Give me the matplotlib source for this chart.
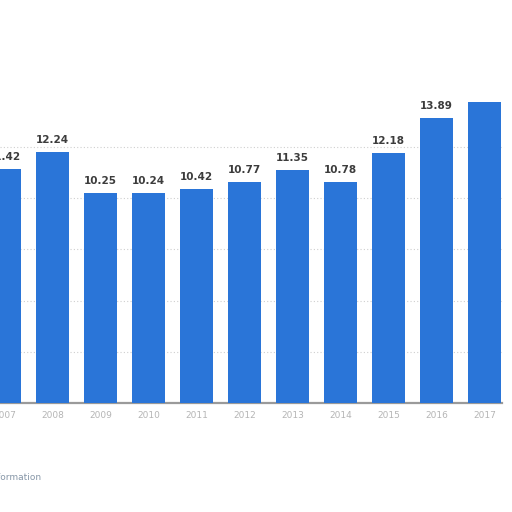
import numpy as np
import matplotlib
matplotlib.use('Agg')
import matplotlib.pyplot as plt

# values
years = ['2007', '2008', '2009', '2010', '2011', '2012', '2013', '2014',
         '2015', '2016', '2017']
values = [11.42, 12.24, 10.25, 10.24, 10.42, 10.77, 11.35, 10.78, 12.18,
          13.89, 14.68]
# the last label is not readable in the picture
value_labels = ['11.42', '12.24', '10.25', '10.24', '10.42', '10.77',
                '11.35', '10.78', '12.18', '13.89', '']
grid_values = [2.5, 5, 7.5, 10, 12.5]

W, H = 512, 512
fig = plt.figure(figsize=(W / 100, H / 100), dpi=100)
# axes: left at x=0 px, right at 502 px, bottom at y=403 px (from top)
ax = fig.add_axes([0, (H - 403) / H, 502 / W, 403 / H])

x = np.arange(len(years))
ax.bar(x, values, width=0.69, color='#2a75d8', zorder=3)

for xi, v, lab in zip(x, values, value_labels):
    ax.text(xi, v + 0.35, lab, ha='center', va='bottom', fontsize=7.5,
            fontweight='bold', color='#3c3c3c', zorder=4)

for g in grid_values:
    ax.axhline(g, color='#cfcfcf', lw=0.8, ls=(0, (1, 2)), zorder=1)

ax.set_xlim(-4.5 / 48, (502 - 4.5) / 48)
ax.set_ylim(0, 403 / 20.5)

for s in ['top', 'right', 'left']:
    ax.spines[s].set_visible(False)
ax.spines['bottom'].set_color('#9a9a9a')
ax.spines['bottom'].set_linewidth(1.6)
ax.set_yticks([])
ax.set_xticks(x)
ax.set_xticklabels(years, fontsize=6.5, color='#b5b5b5')
ax.tick_params(axis='x', length=0, pad=6)

fig.text(41 / W, 1 - 478 / H, 'Additional Information', ha='right',
         va='center', fontsize=6.5, color='#8797a8')

fig.savefig('out.png', dpi=100)
